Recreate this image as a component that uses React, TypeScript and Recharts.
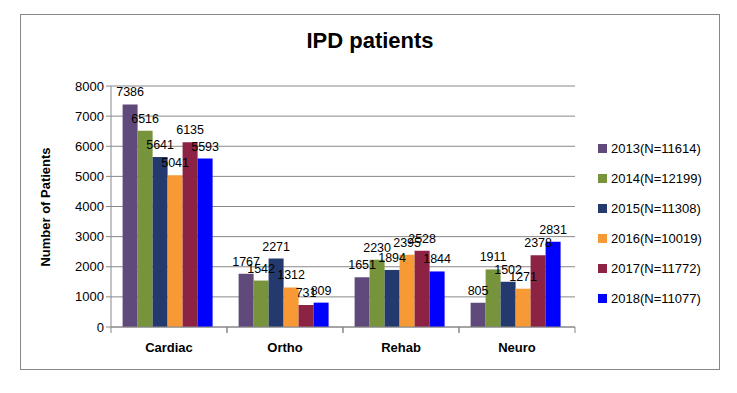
import React from 'react'
import { BarChart, Bar, XAxis, YAxis, CartesianGrid, LabelList } from 'recharts'

const categories = ['Cardiac', 'Ortho', 'Rehab', 'Neuro']
const series = ['2013(N=11614)', '2014(N=12199)', '2015(N=11308)', '2016(N=10019)', '2017(N=11772)', '2018(N=11077)']
const v2013 = [7386, 1767, 1651, 805]
const v2014 = [6516, 1542, 2230, 1911]
const v2015 = [5641, 2271, 1894, 1502]
const v2016 = [5041, 1312, 2395, 1271]
const v2017 = [6135, 731, 2528, 2378]
const v2018 = [5593, 809, 1844, 2831]
const yTicks = [0, 1000, 2000, 3000, 4000, 5000, 6000, 7000, 8000]

const COLORS = ['#604a7b', '#77933c', '#243a6e', '#f79a36', '#8c2344', '#0000ff']
const FONT = '"Liberation Sans", Arial, sans-serif'

const allValues = [v2013, v2014, v2015, v2016, v2017, v2018]
const data = categories.map((c, i) => {
  const row: Record<string, string | number> = { name: c }
  series.forEach((s, j) => { row[s] = allValues[j][i] })
  return row
})

const W = 737
const H = 393
const M = { top: 86, right: 162, bottom: 36, left: 71 }
const bandW = (W - M.left - 40 - M.right) / categories.length

// category label plus boundary tick marks like Excel
const XTick = (props: any) => {
  const { x, y, payload } = props
  return (
    <g>
      <line x1={x - bandW / 2} y1={y - 8} x2={x - bandW / 2} y2={y - 2} stroke="#888" />
      <line x1={x + bandW / 2} y1={y - 8} x2={x + bandW / 2} y2={y - 2} stroke="#888" />
      <text x={x} y={y + 17} textAnchor="middle" fontSize={13} fontWeight="bold" fill="#000" fontFamily={FONT}>
        {payload.value}
      </text>
    </g>
  )
}

export default function App() {
  return (
    <div style={{ position: 'absolute', left: 0, top: 0, width: W, height: H, background: '#fff' }}>
      <div style={{ position: 'absolute', left: 20, top: 14, width: 700, height: 356, border: '1px solid #888', boxSizing: 'border-box' }} />
      <div style={{ position: 'absolute', left: 0, width: 740, top: 28, textAlign: 'center', fontFamily: FONT, fontWeight: 'bold', fontSize: 22 }}>
        IPD patients
      </div>
      <div style={{ position: 'absolute', left: 45, top: 207, transform: 'translate(-50%, -50%) rotate(-90deg)', fontFamily: FONT, fontWeight: 'bold', fontSize: 13, whiteSpace: 'nowrap' }}>
        Number of Patients
      </div>
      <div style={{ position: 'absolute', left: 0, top: 0 }}>
        <BarChart width={W} height={H} data={data} margin={M} barGap={0} barCategoryGap="10%">
          <CartesianGrid vertical={false} stroke="#888" />
          <XAxis dataKey="name" tick={<XTick />} tickLine={false} axisLine={{ stroke: '#888' }} interval={0} height={30} />
          <YAxis domain={[0, 8000]} ticks={yTicks} width={40} tick={{ fontSize: 13, fill: '#000', fontFamily: FONT }}
            axisLine={{ stroke: '#888' }} tickLine={{ stroke: '#888' }} tickSize={5} interval={0} />
          {series.map((s, i) => (
            <Bar key={s} dataKey={s} fill={COLORS[i]} isAnimationActive={false}>
              <LabelList dataKey={s} position="top" fontSize={12.5} fill="#000" fontFamily={FONT} offset={8} />
            </Bar>
          ))}
        </BarChart>
      </div>
      <div style={{ position: 'absolute', left: 598, top: 133, fontFamily: FONT, fontSize: 13, color: '#000' }}>
        {series.map((s, i) => (
          <div key={s} style={{ display: 'flex', alignItems: 'center', height: 30 }}>
            <span style={{ width: 9, height: 9, background: COLORS[i], marginRight: 4 }} />
            <span>{s}</span>
          </div>
        ))}
      </div>
    </div>
  )
}
